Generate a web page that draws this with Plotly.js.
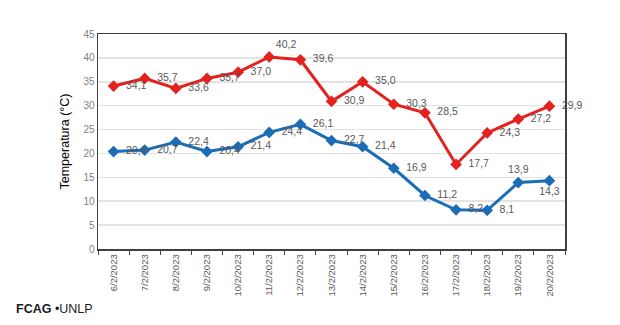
<!DOCTYPE html>
<html>
<head>
<meta charset="utf-8">
<script src="https://cdn.plot.ly/plotly-3.0.1.min.js"></script>
<style>html,body{margin:0;padding:0;background:#fff;}#chart{width:620px;height:325px;}</style>
</head>
<body>
<div id="chart"></div>
<script>
const dates = ["6/2/2023","7/2/2023","8/2/2023","9/2/2023","10/2/2023","11/2/2023","12/2/2023","13/2/2023","14/2/2023","15/2/2023","16/2/2023","17/2/2023","18/2/2023","19/2/2023","20/2/2023"];
const tmax = [34.1,35.7,33.6,35.7,37.0,40.2,39.6,30.9,35.0,30.3,28.5,17.7,24.3,27.2,29.9];
const tmin = [20.4,20.7,22.4,20.4,21.4,24.4,26.1,22.7,21.4,16.9,11.2,8.2,8.1,13.9,14.3];
const yTicks = [0,5,10,15,20,25,30,35,40,45];

const fmt = v => v.toFixed(1).replace('.', ',');
const posMax = tmax.map((v,i) => i === 5 ? 'top right' : 'middle right');
const posMin = tmin.map((v,i) => i === 13 ? 'top center' : (i === 14 ? 'bottom center' : 'middle right'));
const txtMax = tmax.map((v,i) => (posMax[i] === 'middle right' ? '\u00a0\u00a0' : '') + fmt(v));
const txtMin = tmin.map((v,i) => (posMin[i] === 'middle right' ? '\u00a0\u00a0' : '') + fmt(v));

const red = '#e3221f', blue = '#1b6db5';
const labelFont = {family: 'Liberation Sans, Arial, sans-serif', size: 10.5, color: '#595959'};

const traces = [
  {x: dates, y: tmin, type: 'scatter', mode: 'lines+markers+text', name: 'Mín',
   line: {color: blue, width: 3}, marker: {symbol: 'diamond', size: 9, color: blue},
   text: txtMin, textposition: posMin, textfont: labelFont, cliponaxis: false},
  {x: dates, y: tmax, type: 'scatter', mode: 'lines+markers+text', name: 'Máx',
   line: {color: red, width: 3}, marker: {symbol: 'diamond', size: 9, color: red},
   text: txtMax, textposition: posMax, textfont: labelFont, cliponaxis: false}
];

const layout = {
  width: 620, height: 325,
  margin: {l: 98, r: 55, t: 34, b: 76},
  paper_bgcolor: '#fff', plot_bgcolor: '#fff',
  showlegend: false,
  font: {family: 'Liberation Sans, Arial, sans-serif'},
  xaxis: {
    type: 'category', range: [-0.5, 14.5],
    tickangle: -90, tickson: 'boundaries', ticks: 'outside', ticklen: 4, tickcolor: '#404040',
    tickfont: {size: 9.5, color: '#595959'},
    showline: true, linecolor: '#404040', linewidth: 1.5, mirror: true,
    showgrid: false, zeroline: false
  },
  yaxis: {
    range: [0, 45], tickvals: yTicks, ticktext: yTicks.map(String),
    tickfont: {size: 10, color: '#7f7f7f'},
    showline: true, linecolor: '#404040', linewidth: 1.5, mirror: true,
    showgrid: true, gridcolor: '#e3e3e3', gridwidth: 1.5, zeroline: false,
    ticks: '', ticklen: 0,
    title: {text: 'Temperatura (°C)', font: {size: 12.5, color: '#000'}, standoff: 11}
  },
  annotations: [{
    xref: 'paper', yref: 'paper', x: -0.18, y: -0.28, xanchor: 'left', yanchor: 'middle',
    text: '<b>FCAG</b> •UNLP', showarrow: false,
    font: {family: 'Liberation Sans, Arial, sans-serif', size: 12.5, color: '#1a1a1a'}
  }]
};

Plotly.newPlot('chart', traces, layout, {displayModeBar: false, staticPlot: true});
</script>
</body>
</html>
